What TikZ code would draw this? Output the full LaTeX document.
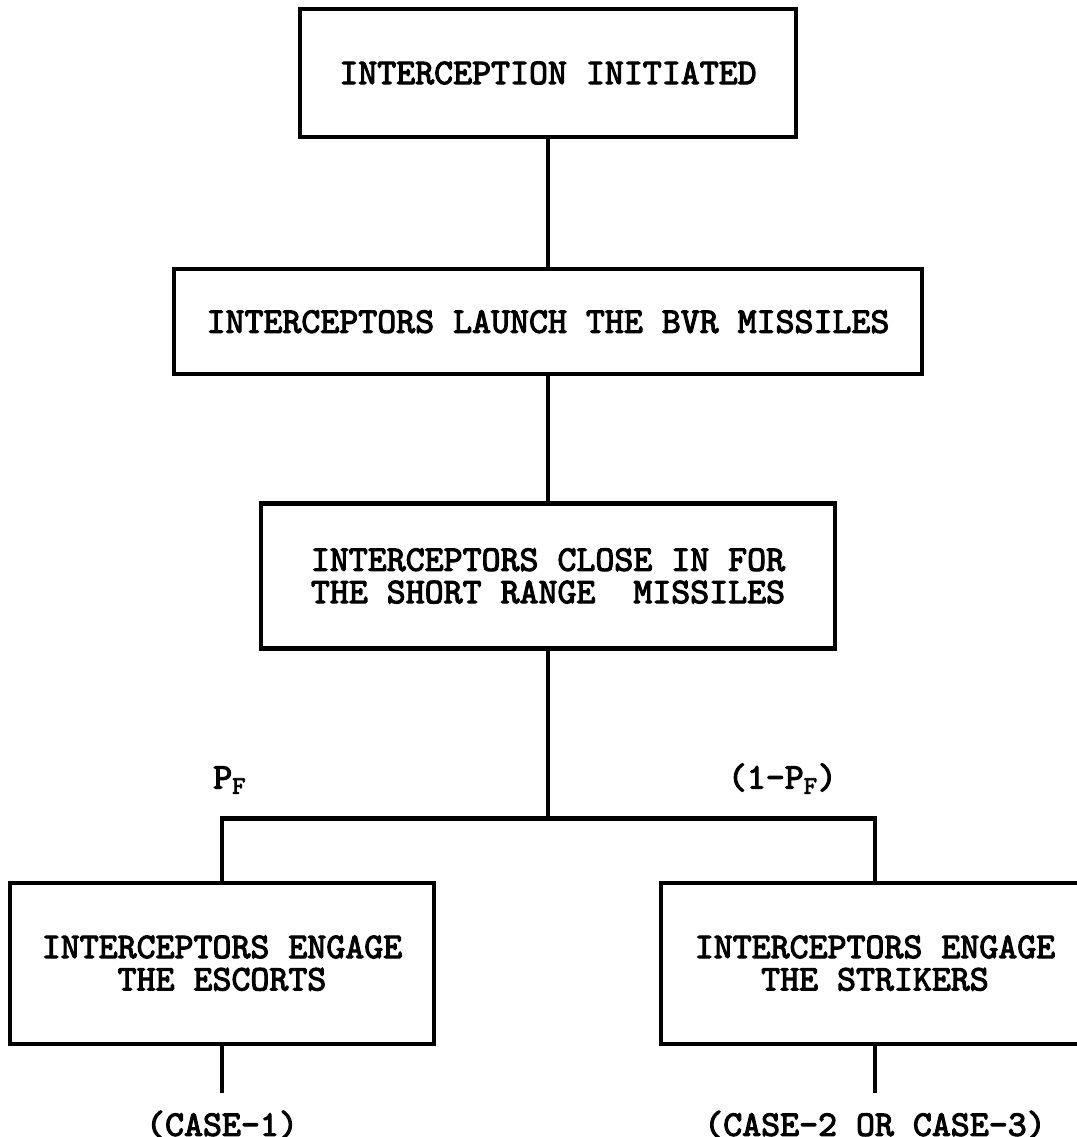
\documentclass[tikz,border=0pt]{standalone}
\usepackage{fontspec}
\usepackage{tikz}
\usetikzlibrary{positioning}
\newfontfamily\typer{lmmono10-regular.otf}[FakeBold=3]

\begin{document}
\begin{tikzpicture}[node distance=1cm, font=\typer\fontsize{25.7}{23}\selectfont\bfseries]
\tikzstyle{block} = [draw, line width=3pt, align=center, inner sep=2pt]
\tikzstyle{link} = [line width=3pt]
\tikzstyle{tag} = [inner sep=0pt]

\useasboundingbox (0,0) rectangle (26.925,-28.425);
\clip (0,0) rectangle (26.925,-28.425);

\node[block, minimum width=12.4cm, minimum height=3.2cm] (init) at (13.7,-1.825) {INTERCEPTION INITIATED};
\node[block, below=3.2cm of init, minimum width=18.7cm, minimum height=2.625cm] (bvr) {INTERCEPTORS LAUNCH THE BVR MISSILES};
\node[block, below=3.125cm of bvr, minimum width=14.35cm, minimum height=3.625cm] (close) {INTERCEPTORS CLOSE IN FOR\\THE SHORT RANGE\ \ MISSILES};

\coordinate[below=4.2cm of close] (fork);
\coordinate[left=8.15cm of fork] (forkL);
\coordinate[right=8.175cm of fork] (forkR);

\node[block, below=1.55cm of forkL, minimum width=10.6cm, minimum height=4.025cm] (escorts) {INTERCEPTORS ENGAGE\\THE ESCORTS};
\node[block, below=1.55cm of forkR, minimum width=10.7cm, minimum height=4.025cm] (strikers) {INTERCEPTORS ENGAGE\\THE STRIKERS};

\coordinate[below=1.175cm of escorts] (endL);
\coordinate[below=1.175cm of strikers] (endR);

\node[tag, below=0.8cm of endL, anchor=center] (case1) {(CASE-1)};
\node[tag, below=0.8cm of endR, anchor=center] (case23) {(CASE-2 OR CASE-3)};
\node[tag, anchor=base west] (pf) at ([xshift=-0.225cm, yshift=0.75cm]forkL) {P\textsubscript{F}};
\node[tag, anchor=base east] (qf) at ([xshift=-0.95cm, yshift=0.75cm]forkR) {(1-P\textsubscript{F})};

\draw[link] (init) -- (bvr);
\draw[link] (bvr) -- (close);
\draw[link] (close) -- (fork);
\draw[link] (escorts.north) -- (forkL) -- (forkR) -- (strikers.north);
\draw[link] (escorts) -- (endL);
\draw[link] (strikers) -- (endR);
\end{tikzpicture}
\end{document}
